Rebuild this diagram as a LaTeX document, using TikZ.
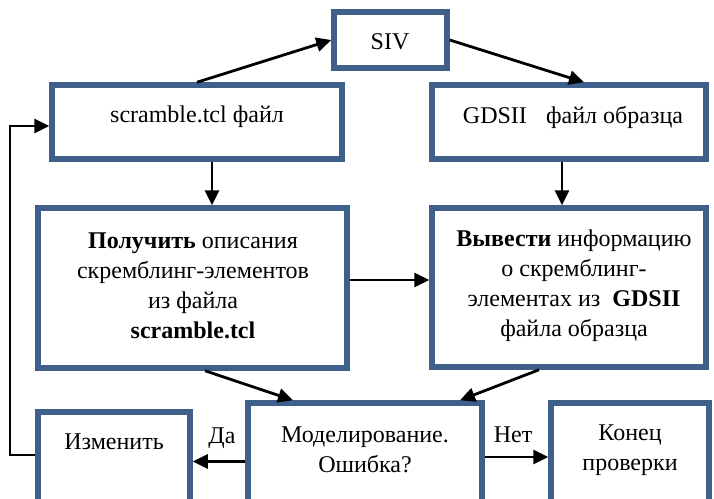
\documentclass[tikz,border=0pt]{standalone}
\usepackage{fontspec}
\setmainfont{Liberation Serif}
\usetikzlibrary{arrows.meta,calc}
\definecolor{boxblue}{RGB}{64,96,140}
\tikzset{
  box/.style={draw=boxblue,line width=5.5pt,fill=white,inner sep=0pt},
  txt/.style={font=\fontsize{24}{30}\selectfont,align=center,inner sep=0pt,text=black},
  arr/.style={draw=black,line width=2.8pt,-{Triangle[length=15pt,width=14pt]}},
}
\begin{document}
\begin{tikzpicture}[x=1pt,y=-1pt]
\useasboundingbox (0,0) rectangle (714,498);
\clip (0,0) rectangle (714,498);
% boxes
\node[box,minimum width=113pt,minimum height=56pt] (siv) at (390.5,40) {};
\node[box,minimum width=290pt,minimum height=74pt] (scr) at (197,122) {};
\node[box,minimum width=274pt,minimum height=74pt] (gds) at (569,122) {};
\node[box,minimum width=309pt,minimum height=160pt] (get) at (192.5,288) {};
\node[box,minimum width=274pt,minimum height=159pt] (out) at (569,287.5) {};
\node[box,minimum width=152pt,minimum height=108pt] (chg) at (114,466) {};
\node[box,minimum width=234pt,minimum height=117pt] (sim) at (365,461.5) {};
\node[box,minimum width=158pt,minimum height=117pt] (fin) at (630,461.5) {};
% texts
\node[txt] (sivT) at (390,42) {SIV};
\node[txt] (scrT) at (197,117) {scramble.tcl файл};
\node[txt] (gdsT) at (573,117) {GDSII\hspace{0.8em}файл образца};
\node[txt] (getT) at (193,286) {\textbf{Получить} описания\\скремблинг-элементов\\из файла\\\textbf{scramble.tcl}};
\node[txt] (outT) at (574,286) {\textbf{Вывести} информацию\\о скремблинг-\\элементах из\enspace\textbf{GDSII}\\файла образца};
\node[txt] (chgT) at (114,442) {Изменить};
\node[txt] (simT) at (365,450) {Моделирование.\\Ошибка?};
\node[txt] (finT) at (630,450) {Конец\\проверки};
\node[txt] (yes) at (222,438) {Да};
\node[txt] (no) at (513,435) {Нет};
% connectors
\draw[arr] (scr.north) -- (siv.west);
\draw[arr] (siv.east) -- ([xshift=15pt]gds.north);
\draw[arr] ([xshift=15pt]scr.south) -- ([xshift=15pt]scr.south |- get.north);
\draw[arr] ([xshift=-7pt]gds.south) -- ([xshift=-7pt]gds.south |- out.north);
\draw[arr] ([yshift=8pt]get.east) -- ([yshift=8pt]get.east -| out.west);
\draw[arr] ([xshift=12.5pt]get.south) -- ([xshift=-72pt]sim.north);
\draw[arr] ([xshift=-30pt]out.south) -- ([xshift=95pt]sim.north);
\draw[arr] (sim.west) -- (sim.west -| chg.east);
\draw[arr] ([yshift=4.5pt]sim.east) -- ([yshift=4.5pt]sim.east -| fin.west);
\coordinate (lp) at (10,126);
\draw[arr] ([yshift=11pt]chg.west) -| (lp) -- (scr.west |- lp);
\end{tikzpicture}
\end{document}
